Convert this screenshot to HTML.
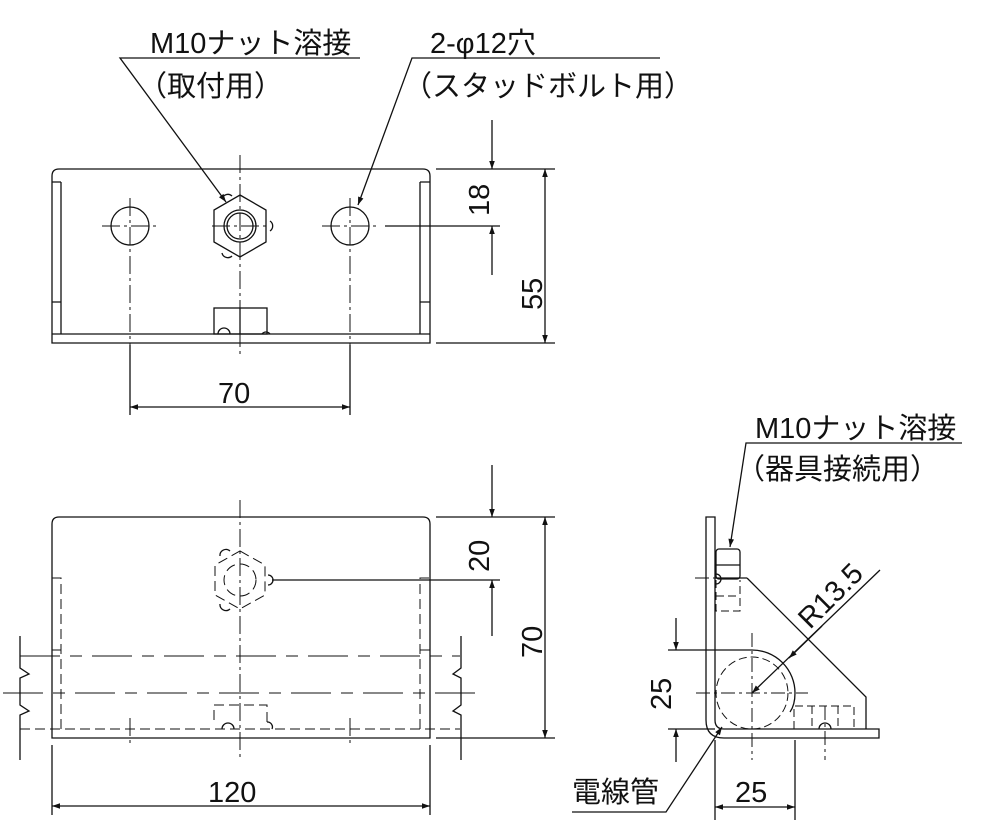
<!DOCTYPE html>
<html><head><meta charset="utf-8"><style>
html,body{margin:0;padding:0;background:#fff}
svg{display:block}
text{font-family:"Liberation Sans","Noto Sans CJK JP",sans-serif;fill:#111}
</style></head><body>
<svg width="1000" height="820" viewBox="0 0 1000 820" xmlns="http://www.w3.org/2000/svg">
<defs>
<marker id="a" viewBox="0 0 10 10" refX="10" refY="5" markerWidth="10" markerHeight="8" orient="auto-start-reverse" markerUnits="userSpaceOnUse"><path d="M0,1.5 L10,5 L0,8.5 z" fill="#111"/></marker>
</defs>
<g stroke="#111" stroke-width="1.3" fill="none">
<!-- TOP VIEW -->
<path d="M52,343 V176 Q52,169 59,169 H423 Q430,169 430,176 V343 Z"/>
<path d="M52,334 H430 M61,182 V334 M52,182 H61 M52,302 H61 M420,182 V334 M420,182 H430 M420,302 H430"/>
<circle cx="130" cy="226" r="19"/><circle cx="350" cy="226" r="19"/>
<polygon points="240,195 266,210 266,242 240,257 214,242 214,210"/>
<circle cx="240" cy="226" r="16"/><circle cx="240" cy="226" r="13"/>
<path d="M222,199 a6,6 0 0 1 10,-3 M270,221 a6,6 0 0 1 0,10 M222,253 a6,6 0 0 0 10,3"/>
<rect x="214" y="308" width="53" height="26"/>
<path d="M240,308 V334 M218,334 a6,6 0 0 1 12,0 M262,334 a5,5 0 0 1 8,0"/>
<g stroke-width="1" stroke-dasharray="18,4,3,4">
<path d="M240,155 V355 M130,198 V415 M350,198 V415 M102,226 H158 M322,226 H378 M212,226 H270"/>
</g>
<path d="M385,226 H500 M436,169 H555 M436,343 H555 M130,345 V415 M350,345 V415"/>
<path d="M130,407 H350" marker-start="url(#a)" marker-end="url(#a)"/>
<path d="M492,120 V169" marker-end="url(#a)"/><path d="M492,275 V226" marker-end="url(#a)"/>
<path d="M545,169 V343" marker-start="url(#a)" marker-end="url(#a)"/>
<path d="M360,58 H120 L226,202" marker-end="url(#a)"/>
<path d="M660,58 H412 L358,205" marker-end="url(#a)"/>

<!-- FRONT VIEW -->
<path d="M52,738 V524 Q52,517 59,517 H423 Q430,517 430,524 V738 Z"/>
<g stroke-width="1" stroke-dasharray="10,5">
<path d="M52,578 H61 V729 M420,729 V578 H430 M52,650 H61 M420,650 H430"/>
<path d="M20,729 H460"/>
<path d="M214,720 V705 H267 V722"/>
<circle cx="240" cy="580" r="16"/>
<polygon points="240,551 265,565 265,595 240,609 215,595 215,565"/>
</g>
<path d="M220,556 a6,6 0 0 1 10,-5 M268,575 a5,5 0 0 1 0,10 M220,604 a6,6 0 0 0 10,5 M222,729 a6,6 0 0 1 12,0 M267,722 a5,5 0 0 1 5,7"/>
<g stroke-width="1" stroke-dasharray="40,10,12,10">
<path d="M20,656 H460 M3,693 H482"/>
</g>
<g stroke-width="1" stroke-dasharray="18,4,3,4">
<path d="M240,500 V760 M130,718 V745 M350,718 V745"/>
</g>
<path d="M20,636 V668 l9,6 l-9,4 V705 l9,6 l-9,4 V760"/>
<path d="M461,636 V668 l-8,6 l8,4 V705 l-8,6 l8,4 V760"/>
<path d="M272,580 H500 M436,517 H555 M436,738 H555"/>
<path d="M52,745 V815 M430,745 V815"/>
<path d="M52,806 H430" marker-start="url(#a)" marker-end="url(#a)"/>
<path d="M492,465 V517" marker-end="url(#a)"/><path d="M492,636 V580" marker-end="url(#a)"/>
<path d="M545,517 V738" marker-start="url(#a)" marker-end="url(#a)"/>

<!-- SIDE VIEW -->
<path d="M706,517 H715 V720 Q715,729 724,729 H879 V738 H724 Q706,738 706,720 Z"/>
<path d="M747,578 L866,697 V729 M715,578 H747"/>
<path d="M752,650 A43,43 0 0 1 795,693 Q795,705 790,712"/>
<rect x="716" y="549" width="24" height="30" rx="3"/>
<path d="M716,565 H740"/>
<g stroke-width="1" stroke-dasharray="8,4">
<path d="M716,580 V611 H740 V580 M716,596 H740"/>
<circle cx="752" cy="693" r="36"/>
<path d="M794,729 V706 H854 V729 M812,706 V729 M838,706 V729"/>
</g>
<path d="M716,574 a5,5 0 0 1 0,10 M819,729 a6,6 0 0 1 12,0"/>
<g stroke-width="1" stroke-dasharray="14,4,3,4">
<path d="M695,578 H740 M696,693 H808 M752,633 V760 M825,706 V760"/>
</g>
<path d="M668,650 H752 M668,729 H715 M715,740 V820 M795,740 V820"/>
<path d="M676,618 V650" marker-end="url(#a)"/><path d="M676,762 V729" marker-end="url(#a)"/>
<path d="M715,807 H795" marker-start="url(#a)" marker-end="url(#a)"/>
<path d="M880,570 L752,693" marker-end="url(#a)"/>
<path d="M822,626 L789,658" marker-end="url(#a)"/>
<path d="M572,812 H666 L722,727" marker-end="url(#a)"/>
<path d="M962,443 H746 L730,547" marker-end="url(#a)"/>
</g>
<g font-size="29">
<text x="150" y="53">M10ナット溶接</text>
<text x="138" y="96">（取付用）</text>
<text x="430" y="53">2-φ12穴</text>
<text x="403" y="96">（スタッドボルト用）</text>
<text x="218" y="403">70</text>
<text x="208" y="802">120</text>
<text x="735" y="802">25</text>
<text x="572" y="802">電線管</text>
<text x="755" y="438">M10ナット溶接</text>
<text x="736" y="479">（器具接続用）</text>
<text transform="translate(489,216) rotate(-90)">18</text>
<text transform="translate(542,310) rotate(-90)">55</text>
<text transform="translate(489,572) rotate(-90)">20</text>
<text transform="translate(542,658) rotate(-90)">70</text>
<text transform="translate(671,710) rotate(-90)">25</text>
<text transform="translate(810,630) rotate(-45)">R13.5</text>
</g>
</svg>
</body></html>
